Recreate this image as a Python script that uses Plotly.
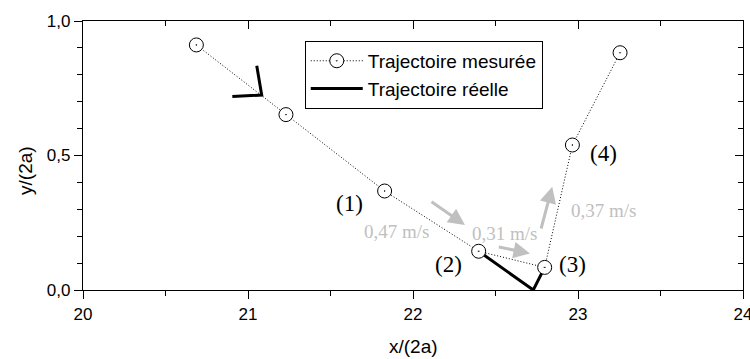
import plotly.graph_objects as go

# Measured positions of the sphere (normalised by 2a)
x_mesure = [20.687, 21.230, 21.828, 22.398, 22.798, 22.966, 23.255]
y_mesure = [0.911, 0.652, 0.368, 0.144, 0.084, 0.539, 0.882]

# Real trajectory pieces
x_reelle_a = [20.905, 21.083, 21.053]
y_reelle_a = [0.719, 0.725, 0.834]
x_reelle_b = [22.398, 22.729, 22.798]
y_reelle_b = [0.144, 0.000, 0.084]

# Numbered point labels
label_text = ["(1)", "(2)", "(3)", "(4)"]
label_x = [21.618, 22.214, 22.968, 23.153]
label_y = [0.320, 0.093, 0.093, 0.508]

# Velocities and their arrows
speed_text = ["0,47 m/s", "0,31 m/s", "0,37 m/s"]
speed_x = [21.901, 22.553, 23.153]
speed_y = [0.217, 0.211, 0.295]
arrow_tail_x = [22.103, 22.511, 22.774]
arrow_tail_y = [0.332, 0.161, 0.223]
arrow_head_x = [22.315, 22.709, 22.844]
arrow_head_y = [0.242, 0.136, 0.384]

x_ticks = [20, 21, 22, 23, 24]
y_ticks = [0.0, 0.5, 1.0]

SANS = "Liberation Sans, Arial, sans-serif"
SERIF = "Liberation Serif, Times New Roman, serif"
GREY = "#c0c0c0"

fig = go.Figure()

fig.add_trace(go.Scatter(
    x=x_reelle_a, y=y_reelle_a, mode="lines",
    line=dict(color="black", width=3), name="Trajectoire réelle",
    legendgroup="reelle", showlegend=False, hoverinfo="skip"))
fig.add_trace(go.Scatter(
    x=x_reelle_b, y=y_reelle_b, mode="lines",
    line=dict(color="black", width=3), name="Trajectoire réelle",
    legendgroup="reelle", showlegend=False, hoverinfo="skip"))

fig.add_trace(go.Scatter(
    x=x_mesure, y=y_mesure, mode="lines+markers",
    name="Trajectoire mesurée",
    line=dict(color="black", width=1, dash="1px,2px"),
    marker=dict(symbol="circle-dot", size=14, color="white",
                line=dict(color="black", width=1))))

# legend entry for the real trajectory
fig.add_trace(go.Scatter(
    x=[None], y=[None], mode="lines", name="Trajectoire réelle",
    legendgroup="reelle", line=dict(color="black", width=3)))

# helper trace so the mirrored (top/right) tick axes are drawn
fig.add_trace(go.Scatter(
    x=[20], y=[0], xaxis="x2", yaxis="y2", mode="lines",
    showlegend=False, hoverinfo="skip"))

annotations = []
for t, x, y in zip(label_text, label_x, label_y):
    annotations.append(dict(x=x, y=y, text=t, showarrow=False,
                            font=dict(family=SERIF, size=23, color="black")))
for t, x, y in zip(speed_text, speed_x, speed_y):
    annotations.append(dict(x=x, y=y, text=t, showarrow=False,
                            font=dict(family=SERIF, size=19, color=GREY)))
for tx, ty, hx, hy in zip(arrow_tail_x, arrow_tail_y, arrow_head_x, arrow_head_y):
    annotations.append(dict(x=hx, y=hy, ax=tx, ay=ty, xref="x", yref="y",
                            axref="x", ayref="y", text="", showarrow=True,
                            arrowhead=2, arrowsize=1.1, arrowwidth=3,
                            arrowcolor=GREY, standoff=0, startstandoff=0))

# axis titles
annotations.append(dict(x=0.5, y=-0.21, xref="paper", yref="paper", yanchor="middle",
                        text="x/(2a)", showarrow=False,
                        font=dict(family=SANS, size=19, color="black")))
annotations.append(dict(x=-0.088, y=0.446, xref="paper", yref="paper", xanchor="center",
                        yanchor="middle",
                        text="y/(2a)", showarrow=False, textangle=-90,
                        font=dict(family=SANS, size=19, color="black")))

axis_common = dict(showgrid=False, zeroline=False, tickcolor="black",
                   tickwidth=1.3, automargin=False)

fig.update_layout(
    width=750, height=359,
    margin=dict(l=83, r=7, t=21, b=69),
    plot_bgcolor="white", paper_bgcolor="white",
    separators=",.",
    font=dict(family=SANS, size=17, color="black"),
    xaxis=dict(range=[20, 24], tickvals=x_ticks, ticks="outside", ticklen=8,
               showline=True, mirror=True, linecolor="black", linewidth=1.3,
               ticklabeloverflow="allow",
               minor=dict(dtick=0.5, ticks="outside", ticklen=5,
                          tickcolor="black", tickwidth=1.3),
               tickfont=dict(family=SANS, size=17), **axis_common),
    yaxis=dict(range=[0, 1], tickvals=y_ticks, tickformat=".1f",
               ticks="outside", ticklen=8, showline=True, mirror=True,
               linecolor="black", linewidth=1.3,
               minor=dict(dtick=0.1, ticks="outside", ticklen=5,
                          tickcolor="black", tickwidth=1.3),
               tickfont=dict(family=SANS, size=17), **axis_common),
    xaxis2=dict(range=[20, 24], overlaying="x", side="top", anchor="y2",
                tickvals=x_ticks, ticks="inside", ticklen=8,
                showticklabels=False, showline=False,
                minor=dict(dtick=0.5, ticks="inside", ticklen=5,
                           tickcolor="black", tickwidth=1.3),
                **axis_common),
    yaxis2=dict(range=[0, 1], overlaying="y", side="right", anchor="x2",
                tickvals=y_ticks, ticks="inside", ticklen=8,
                showticklabels=False, showline=False,
                minor=dict(dtick=0.1, ticks="inside", ticklen=5,
                           tickcolor="black", tickwidth=1.3),
                **axis_common),
    legend=dict(x=0.336, y=0.926, xanchor="left", yanchor="top",
                bordercolor="black", borderwidth=1, bgcolor="white",
                font=dict(family=SANS, size=19, color="black"),
                tracegroupgap=0, itemwidth=52),
    annotations=annotations,
    showlegend=True,
)

fig.write_html("out.html")
